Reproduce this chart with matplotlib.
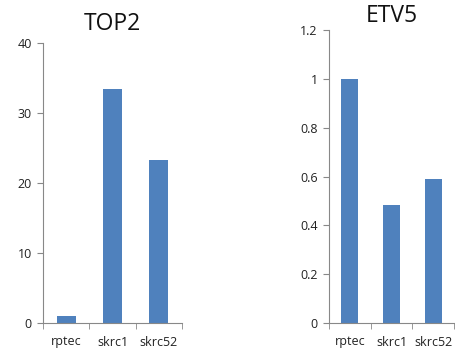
import matplotlib
matplotlib.use("Agg")
import matplotlib.pyplot as plt
import numpy as np

categories = ["rptec", "skrc1", "skrc52"]
top2_values = [1.0, 33.5, 23.3]
etv5_values = [1.0, 0.485, 0.59]
top2_yticks = [0, 10, 20, 30, 40]
etv5_yticks = [0, 0.2, 0.4, 0.6, 0.8, 1.0, 1.2]
etv5_yticklabels = ["0", "0.2", "0.4", "0.6", "0.8", "1", "1.2"]

plt.rcParams['font.family'] = ['Open Sans', 'DejaVu Sans']
bar_color = "#4F81BD"
axis_color = "#888888"

fig = plt.figure(figsize=(4.55, 3.52), dpi=100)

def style(ax, ymax, yticks, yticklabels, title, title_y):
    n = len(categories)
    x = np.arange(n)
    ax.set_xlim(-0.5, n - 0.5)
    ax.set_ylim(0, ymax)
    ax.set_yticks(yticks)
    ax.set_yticklabels(yticklabels)
    ax.set_xticks(x)
    ax.set_xticklabels(categories)
    ax.tick_params(axis='x', length=0, pad=9, labelsize=9, colors="#222222")
    ax.set_xticks(np.arange(n + 1) - 0.5, minor=True)
    ax.tick_params(axis='x', which='minor', length=4, color=axis_color, direction='out')
    ax.tick_params(axis='y', length=4, color=axis_color, direction='out', labelsize=9,
                   labelcolor="#222222", pad=4)
    for s in ['top', 'right']:
        ax.spines[s].set_visible(False)
    for s in ['left', 'bottom']:
        ax.spines[s].set_color(axis_color)
        ax.spines[s].set_linewidth(0.8)
    fig.text(ax.get_position().x0 + ax.get_position().width / 2 + 0.0, title_y, title,
             ha='center', va='center', fontsize=16.5, color="#111111")

ax1 = fig.add_axes([43/455, 1-323/352, (182-43)/455, (323-43)/352])
ax1.bar(np.arange(len(categories)), top2_values, width=0.41, color=bar_color)
style(ax1, 40, top2_yticks, [str(v) for v in top2_yticks], "TOP2", 1-24/352)

ax2 = fig.add_axes([329/455, 1-323/352, (454-329)/455, (323-30)/352])
ax2.bar(np.arange(len(categories)), etv5_values, width=0.41, color=bar_color)
style(ax2, 1.2, etv5_yticks, etv5_yticklabels, "ETV5", 1-16/352)

fig.savefig("out.png", dpi=100)
